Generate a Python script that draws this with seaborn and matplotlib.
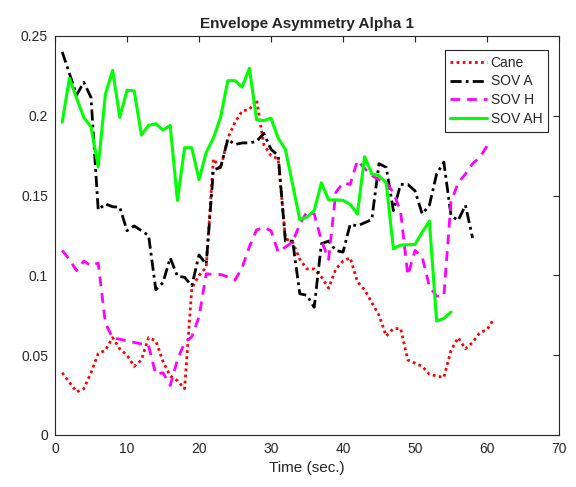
import numpy as np
import pandas as pd
import seaborn as sns
import matplotlib
matplotlib.use("Agg")
import matplotlib.pyplot as plt
from matplotlib.ticker import FuncFormatter

# Data (one value per second)
cane = [0.039, 0.033, 0.027, 0.029, 0.039, 0.051, 0.053, 0.061, 0.054, 0.050,
        0.043, 0.047, 0.061, 0.059, 0.046, 0.037, 0.034, 0.029, 0.092, 0.100,
        0.105, 0.173, 0.167, 0.186, 0.196, 0.203, 0.204, 0.210, 0.182, 0.175,
        0.173, 0.123, 0.121, 0.110, 0.104, 0.104, 0.099, 0.092, 0.104, 0.109,
        0.111, 0.096, 0.091, 0.083, 0.075, 0.062, 0.0667, 0.0667, 0.047, 0.045,
        0.043, 0.038, 0.037, 0.036, 0.053, 0.061, 0.054, 0.058, 0.064, 0.066,
        0.073]
sov_a = [0.240, 0.2265, 0.213, 0.221, 0.2115, 0.141, 0.1448, 0.143, 0.1427, 0.128,
         0.131, 0.128, 0.125, 0.091, 0.0955, 0.111, 0.0995, 0.0988, 0.0935, 0.1128,
         0.107, 0.166, 0.1677, 0.1852, 0.182, 0.183, 0.183, 0.184, 0.189, 0.179,
         0.175, 0.1215, 0.1215, 0.0885, 0.0875, 0.080, 0.1198, 0.1215, 0.1156, 0.1146,
         0.132, 0.131, 0.133, 0.135, 0.170, 0.1677, 0.1406, 0.157, 0.157, 0.153,
         0.1385, 0.144, 0.1635, 0.171, 0.1375, 0.1344, 0.144, 0.1235]
sov_h = [0.1156, 0.110, 0.103, 0.109, 0.106, 0.1077, 0.070, 0.061, 0.060, 0.059,
         0.058, 0.057, 0.056, 0.038, 0.039, 0.031, 0.047, 0.058, 0.0615, 0.074,
         0.101, 0.1006, 0.1006, 0.099, 0.097, 0.105, 0.118, 0.1285, 0.130, 0.128,
         0.1146, 0.1177, 0.121, 0.132, 0.140, 0.1385, 0.122, 0.110, 0.152, 0.158,
         0.157, 0.172, 0.167, 0.1625, 0.160, 0.158, 0.152, 0.140, 0.100, 0.1156,
         0.1115, 0.093, 0.087, 0.087, 0.146, 0.158, 0.1635, 0.170, 0.174, 0.181]
sov_ah = [0.196, 0.2235, 0.211, 0.199, 0.193, 0.168, 0.2135, 0.2285, 0.199, 0.216,
          0.2156, 0.188, 0.194, 0.195, 0.191, 0.194, 0.147, 0.180, 0.180, 0.160,
          0.177, 0.186, 0.199, 0.222, 0.222, 0.218, 0.2298, 0.1975, 0.197, 0.1985,
          0.186, 0.179, 0.157, 0.135, 0.1365, 0.1406, 0.158, 0.1473, 0.1473, 0.147,
          0.1445, 0.1385, 0.1744, 0.1635, 0.1625, 0.158, 0.1167, 0.119, 0.1192, 0.1194,
          0.127, 0.134, 0.0714, 0.073, 0.077]

series_names = ["Cane", "SOV A", "SOV H", "SOV AH"]
series_values = [cane, sov_a, sov_h, sov_ah]
colors = ["#ff0000", "#000000", "#ff00ff", "#00ff00"]
styles = [(0, (1, 1.2)), (0, (4, 1.5, 1, 1.5)), (0, (3.5, 2.5)), "-"]
widths = [2.0, 2.0, 2.0, 2.2]

sns.set_style("white")
plt.rcParams["font.family"] = ["Liberation Sans", "DejaVu Sans"]

fig = plt.figure(figsize=(5.76, 4.87), dpi=100)
ax = fig.add_axes([0.0955, 0.1068, 0.875, 0.8193])

for name, vals, c, ls, lw in zip(series_names, series_values, colors, styles, widths):
    df = pd.DataFrame({"time": np.arange(1, len(vals) + 1), "value": vals})
    sns.lineplot(data=df, x="time", y="value", color=c, linestyle=ls,
                 linewidth=lw, label=name, ax=ax)

ax.set_xlim(0, 70)
ax.set_ylim(0, 0.25)
ax.set_xticks(np.arange(0, 71, 10))
ax.set_yticks([0, 0.05, 0.1, 0.15, 0.2, 0.25])
ax.yaxis.set_major_formatter(FuncFormatter(lambda v, p: "%g" % round(v, 3)))

ax.set_title("Envelope Asymmetry Alpha 1", fontsize=11, fontweight="bold", pad=6)
ax.set_xlabel("Time (sec.)", fontsize=11, color="#262626")
ax.set_ylabel("")

ax.tick_params(direction="in", top=True, right=True, length=4, width=0.8,
               labelsize=10, colors="#262626", pad=5)
for s in ax.spines.values():
    s.set_color("#262626")
    s.set_linewidth(0.8)

leg = ax.legend(loc="upper right", bbox_to_anchor=(0.978, 0.965), borderaxespad=0,
                fontsize=10, fancybox=False, framealpha=1, edgecolor="#262626",
                handlelength=2.6, handletextpad=0.3, labelspacing=0.35,
                borderpad=0.4)
leg.get_frame().set_linewidth(0.8)

fig.savefig("out.png", dpi=100)
